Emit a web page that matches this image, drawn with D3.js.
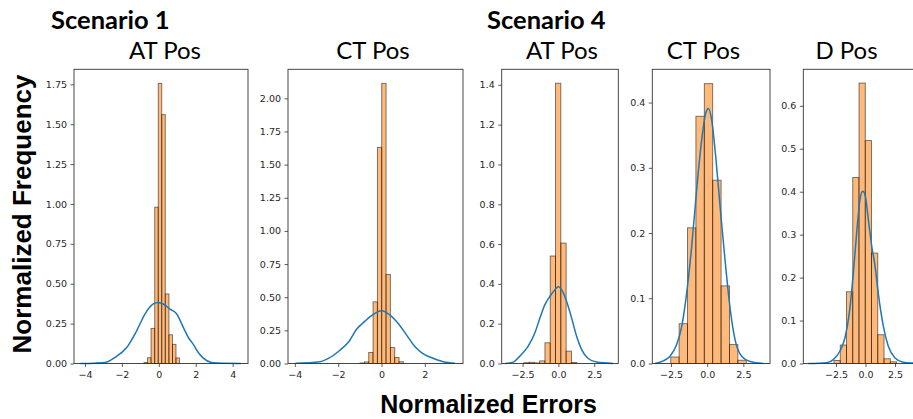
<!DOCTYPE html>
<html>
<head>
<meta charset="utf-8">
<script src="https://cdn.jsdelivr.net/npm/d3@7"></script>
<style>
  html, body { margin: 0; padding: 0; background: #fff; overflow: hidden; }
  svg { display: block; }
</style>
</head>
<body>
<svg id="chart" width="913" height="419"></svg>
<script>
// ----- Data -----
const groupTitles = ["Scenario 1", "Scenario 4"];
const panelTitles = ["AT Pos", "CT Pos", "AT Pos", "CT Pos", "D Pos"];

// axis limits per panel
const xLimits = [[-4.594, 4.832], [-4.315, 3.761], [-3.957, 4.18], [-3.794, 4.34], [-5.27, 5.04]];
const yLimits = [[0, 1.844], [0, 2.219], [0, 1.478], [0, 0.451], [0, 0.685]];

// tick values per panel
const xTicks = [[-4, -2, 0, 2, 4], [-4, -2, 0, 2], [-2.5, 0, 2.5], [-2.5, 0, 2.5], [-2.5, 0, 2.5]];
const yTicks = [
  [0, 0.25, 0.5, 0.75, 1, 1.25, 1.5, 1.75],
  [0, 0.25, 0.5, 0.75, 1, 1.25, 1.5, 1.75, 2],
  [0, 0.2, 0.4, 0.6, 0.8, 1.0, 1.2, 1.4],
  [0, 0.1, 0.2, 0.3, 0.4],
  [0, 0.1, 0.2, 0.3, 0.4, 0.5, 0.6]
];
const xFormats = ["d", "d", ".1f", ".1f", ".1f"];
const yFormats = [".2f", ".2f", ".1f", ".1f", ".1f"];

// histogram bin edges and normalized heights
const binEdges = [
  [-0.80, -0.61, -0.42, -0.22, -0.03, 0.16, 0.35, 0.55, 0.74, 0.93, 1.12],
  [-0.99, -0.79, -0.59, -0.39, -0.19, 0.01, 0.21, 0.41, 0.61, 0.81, 1.01],
  [-2.42, -2.05, -1.68, -1.31, -0.94, -0.57, -0.20, 0.17, 0.54, 0.91, 1.28],
  [-2.52, -1.94, -1.36, -0.78, -0.20, 0.38, 0.96, 1.54, 2.12, 2.70],
  [-2.67, -2.14, -1.61, -1.08, -0.55, -0.02, 0.51, 1.04, 1.57, 2.10, 2.63]
];
const binHeights = [
  [0.006, 0.036, 0.22, 0.98, 1.756, 1.56, 0.436, 0.18, 0.12, 0.035],
  [0.004, 0.012, 0.083, 0.465, 1.63, 2.113, 0.672, 0.12, 0.045, 0.013],
  [0.004, 0.006, 0.003, 0.013, 0.104, 0.54, 1.408, 0.605, 0.062, 0.005],
  [0.010, 0.061, 0.208, 0.379, 0.429, 0.281, 0.119, 0.029, 0.005],
  [0.007, 0.043, 0.167, 0.433, 0.653, 0.519, 0.257, 0.067, 0.011, 0.004]
];

// density curves (x, y)
const kdeX = [
  [-4.25, -3.5, -2.91, -2.37, -1.74, -1.20, -0.75, -0.30, -0.03, 0.24, 0.61, 0.97, 1.33, 1.60, 1.87, 2.14, 2.41, 2.86, 3.49, 4.45],
  [-3.97, -2.84, -2.45, -1.92, -1.53, -1.14, -0.76, -0.38, 0.01, 0.39, 0.78, 1.16, 1.55, 1.86, 2.32, 2.85, 3.39],
  [-3.73, -3.15, -2.69, -2.11, -1.64, -1.29, -0.94, -0.59, -0.24, -0.01, 0.22, 0.57, 0.92, 1.27, 1.62, 2.08, 2.66, 3.82],
  [-3.61, -3.03, -2.57, -2.11, -1.76, -1.42, -1.07, -0.73, -0.38, -0.10, 0.08, 0.31, 0.61, 0.93, 1.23, 1.58, 1.92, 2.38, 2.96, 3.88],
  [-4.85, -3.29, -2.73, -2.16, -1.74, -1.37, -1.03, -0.75, -0.47, -0.24, -0.04, 0.24, 0.53, 0.81, 1.08, 1.51, 1.93, 2.5, 3.2, 4.0, 4.8]
];
const kdeY = [
  [0, 0.002, 0.006, 0.038, 0.10, 0.205, 0.31, 0.373, 0.383, 0.373, 0.341, 0.31, 0.226, 0.163, 0.12, 0.069, 0.034, 0.006, 0.001, 0],
  [0.001, 0.013, 0.038, 0.10, 0.16, 0.26, 0.32, 0.37, 0.397, 0.365, 0.30, 0.214, 0.126, 0.08, 0.043, 0.013, 0.001],
  [0, 0.007, 0.037, 0.087, 0.154, 0.229, 0.296, 0.338, 0.371, 0.385, 0.371, 0.313, 0.229, 0.137, 0.07, 0.025, 0.007, 0],
  [0, 0.004, 0.011, 0.029, 0.057, 0.108, 0.18, 0.266, 0.343, 0.384, 0.391, 0.373, 0.312, 0.231, 0.159, 0.085, 0.037, 0.011, 0.003, 0],
  [0, 0.002, 0.009, 0.029, 0.06, 0.118, 0.211, 0.304, 0.381, 0.401, 0.393, 0.335, 0.273, 0.226, 0.164, 0.087, 0.04, 0.013, 0.003, 0.001, 0]
];

// ----- Layout -----
const FRAMES = [
  { left: 74,    right: 248 },
  { left: 288,   right: 463 },
  { left: 501.7, right: 618.3 },
  { left: 652.3, right: 770 },
  { left: 803.3, right: 925 }
];
const TOP = 69.3, BOTTOM = 363.5;
const TITLE_CX = [165, 373, 562, 703.5, 846.5];
const GROUP_X = [51, 487];

const BAR_COLOR = "#ff7f0e";
const KDE_COLOR = "#1f77b4";
const AXIS_COLOR = "#333";
const TICK_FONT = "DejaVu Sans, sans-serif";

const svg = d3.select("#chart");

panelTitles.forEach((title, p) => {
  const f = FRAMES[p];
  const x = d3.scaleLinear().domain(xLimits[p]).range([f.left, f.right]);
  const y = d3.scaleLinear().domain(yLimits[p]).range([BOTTOM, TOP]);
  const g = svg.append("g");

  // histogram bars
  const bins = binHeights[p].map((h, i) => ({ x0: binEdges[p][i], x1: binEdges[p][i + 1], h }));
  g.append("g").selectAll("rect").data(bins).join("rect")
    .attr("x", d => x(d.x0))
    .attr("width", d => x(d.x1) - x(d.x0))
    .attr("y", d => y(d.h))
    .attr("height", d => y(0) - y(d.h))
    .attr("fill", BAR_COLOR)
    .attr("fill-opacity", 0.55)
    .attr("stroke", "#000")
    .attr("stroke-opacity", 0.55)
    .attr("stroke-width", 0.9);

  // density line
  const pts = kdeX[p].map((v, i) => [v, kdeY[p][i]]);
  g.append("path")
    .datum(pts)
    .attr("fill", "none")
    .attr("stroke", KDE_COLOR)
    .attr("stroke-width", 1.5)
    .attr("d", d3.line().x(d => x(d[0])).y(d => y(d[1])).curve(d3.curveMonotoneX));

  // axes
  const xAxis = g.append("g")
    .attr("transform", `translate(0,${BOTTOM})`)
    .call(d3.axisBottom(x).tickValues(xTicks[p]).tickFormat(d3.format(xFormats[p]))
      .tickSize(3.5).tickPadding(4.5));
  const yAxis = g.append("g")
    .attr("transform", `translate(${f.left},0)`)
    .call(d3.axisLeft(y).tickValues(yTicks[p]).tickFormat(d3.format(yFormats[p]))
      .tickSize(3.5).tickPadding(3.5));
  [xAxis, yAxis].forEach(a => {
    a.select(".domain").remove();
    a.selectAll("line").attr("stroke", AXIS_COLOR).attr("stroke-width", 0.8);
    a.selectAll("text").attr("fill", "#262626")
      .attr("font-family", TICK_FONT).attr("font-size", 9.5);
  });

  // frame
  g.append("rect")
    .attr("x", f.left).attr("y", TOP)
    .attr("width", f.right - f.left).attr("height", BOTTOM - TOP)
    .attr("fill", "none").attr("stroke", AXIS_COLOR).attr("stroke-width", 0.9);

  // subplot title
  svg.append("text")
    .attr("x", TITLE_CX[p]).attr("y", 59)
    .attr("text-anchor", "middle")
    .attr("font-family", "Lato, sans-serif")
    .attr("font-size", 24)
    .attr("fill", "#000")
    .text(title);
});

// group headings
groupTitles.forEach((t, i) => {
  svg.append("text")
    .attr("x", GROUP_X[i]).attr("y", 29)
    .attr("font-family", "Lato, sans-serif")
    .attr("font-weight", 700)
    .attr("font-size", 25.5)
    .attr("fill", "#000")
    .text(t);
});

// shared axis labels
svg.append("text")
  .attr("transform", "translate(31,214) rotate(-90)")
  .attr("text-anchor", "middle")
  .attr("font-family", "Liberation Sans, Arial, sans-serif")
  .attr("font-weight", 700)
  .attr("font-size", 26)
  .text("Normalized Frequency");

svg.append("text")
  .attr("x", 488.5).attr("y", 412.5)
  .attr("text-anchor", "middle")
  .attr("font-family", "Liberation Sans, Arial, sans-serif")
  .attr("font-weight", 700)
  .attr("font-size", 25)
  .text("Normalized Errors");
</script>
</body>
</html>
